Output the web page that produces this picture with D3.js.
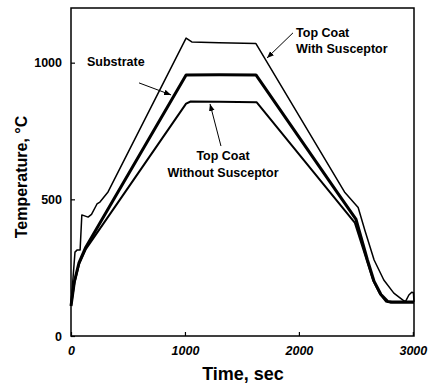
<!DOCTYPE html>
<html>
<head>
<meta charset="utf-8">
<script src="https://cdn.jsdelivr.net/npm/d3@7"></script>
<style>
  html, body { margin: 0; padding: 0; background: #fff; }
  svg { display: block; }
  text { font-family: "Liberation Sans", Arial, sans-serif; font-weight: bold; fill: #000; }
</style>
</head>
<body>
<svg id="chart" width="429" height="384"></svg>
<script>
// ---- data (time in s, temperature in °C) ----
const withTime = [0, 35, 55, 80, 95, 150, 180, 228, 254, 325, 1010, 1060, 1300, 1623, 2400, 2520, 2580, 2660, 2745, 2833, 2910, 2935, 2965, 2990, 3005, 3010];
const withTemp = [115, 307, 315, 315, 443, 435, 445, 483, 490, 527, 1090, 1076, 1073, 1070, 527, 470, 385, 278, 205, 157, 132, 126, 150, 160, 158, 125];

const substrateTime = [0, 30, 70, 130, 1010, 1300, 1623, 2333, 2500, 2600, 2660, 2720, 2780, 2815, 3010];
const substrateTemp = [110, 200, 268, 325, 955, 956, 955, 527, 428, 280, 200, 152, 126, 124, 124];

const withoutTime = [0, 30, 70, 130, 1010, 1050, 1300, 1630, 2270, 2490, 2590, 2650, 2710, 2765, 2800, 3010];
const withoutTemp = [110, 195, 262, 318, 850, 858, 857, 855, 527, 415, 285, 205, 155, 126, 123, 123];

const xTicks = [0, 1000, 2000, 3000];
const yTicks = [0, 500, 1000];

const seriesNames = ["Top Coat With Susceptor", "Substrate", "Top Coat Without Susceptor"];

// ---- layout ----
const svg = d3.select("#chart");
const x = d3.scaleLinear().domain([0, 3010]).range([71, 414]);
const y = d3.scaleLinear().domain([0, 1200]).range([336, 8]);

// frame
svg.append("rect")
  .attr("x", x(0)).attr("y", y(1200))
  .attr("width", x(3010) - x(0)).attr("height", y(0) - y(1200))
  .attr("fill", "none").attr("stroke", "#000").attr("stroke-width", 1.5);

// axes (inward ticks)
const xAxis = svg.append("g").attr("transform", `translate(0,${y(0)})`)
  .call(d3.axisBottom(x).tickValues(xTicks).tickSize(-4).tickPadding(10).tickFormat(d3.format("d")));
xAxis.select(".domain").remove();
xAxis.selectAll("line").attr("stroke", "#000").attr("stroke-width", 1.2);
xAxis.selectAll("text").attr("font-size", 12.5).attr("font-style", "italic")
  .attr("font-family", "'Liberation Sans', Arial, sans-serif").attr("font-weight", "bold").attr("fill", "#000");

const yAxis = svg.append("g").attr("transform", `translate(${x(0)},0)`)
  .call(d3.axisLeft(y).tickValues(yTicks).tickSize(-4).tickPadding(9).tickFormat(d3.format("d")));
yAxis.select(".domain").remove();
yAxis.selectAll("line").attr("stroke", "#000").attr("stroke-width", 1.2);
yAxis.selectAll("text").attr("font-size", 12.5)
  .attr("font-family", "'Liberation Sans', Arial, sans-serif").attr("font-weight", "bold").attr("fill", "#000");

// axis titles
svg.append("text").attr("x", 243).attr("y", 380).attr("text-anchor", "middle")
  .attr("font-size", 18).text("Time, sec");
svg.append("text").attr("transform", "translate(27,177) rotate(-90)").attr("text-anchor", "middle")
  .attr("font-size", 16).text("Temperature, °C");

// lines
const line = d3.line().x(d => x(d[0])).y(d => y(d[1]));
const series = [
  { name: seriesNames[0], pts: d3.zip(withTime, withTemp), w: 1.5 },
  { name: seriesNames[1], pts: d3.zip(substrateTime, substrateTemp), w: 3 },
  { name: seriesNames[2], pts: d3.zip(withoutTime, withoutTemp), w: 2 }
];
svg.append("g").selectAll("path").data(series).join("path")
  .attr("d", d => line(d.pts))
  .attr("fill", "none").attr("stroke", "#000")
  .attr("stroke-width", d => d.w).attr("stroke-linejoin", "round");

// annotations
svg.append("defs").append("marker")
  .attr("id", "ah").attr("viewBox", "0 0 10 10").attr("refX", 10).attr("refY", 5)
  .attr("markerWidth", 7).attr("markerHeight", 7).attr("markerUnits", "userSpaceOnUse")
  .attr("orient", "auto")
  .append("path").attr("d", "M0,1 L10,5 L0,9 Z").attr("fill", "#000");

function arrow(t1, v1, t2, v2) {
  svg.append("line").attr("x1", x(t1)).attr("y1", y(v1)).attr("x2", x(t2)).attr("y2", y(v2))
    .attr("stroke", "#000").attr("stroke-width", 1).attr("marker-end", "url(#ah)");
}
function label(t, v, txt, anchor) {
  svg.append("text").attr("x", x(t)).attr("y", y(v)).attr("text-anchor", anchor)
    .attr("font-size", 12.5).text(txt);
}
label(140, 988, "Substrate", "start");
arrow(597, 926, 878, 882);

label(1975, 1094, "Top Coat", "start");
label(1975, 1035, "With Susceptor", "start");
arrow(1948, 1109, 1720, 1017);

label(1334, 644, "Top Coat", "middle");
label(1334, 582, "Without Susceptor", "middle");
arrow(1316, 695, 1220, 849);
</script>
</body>
</html>
